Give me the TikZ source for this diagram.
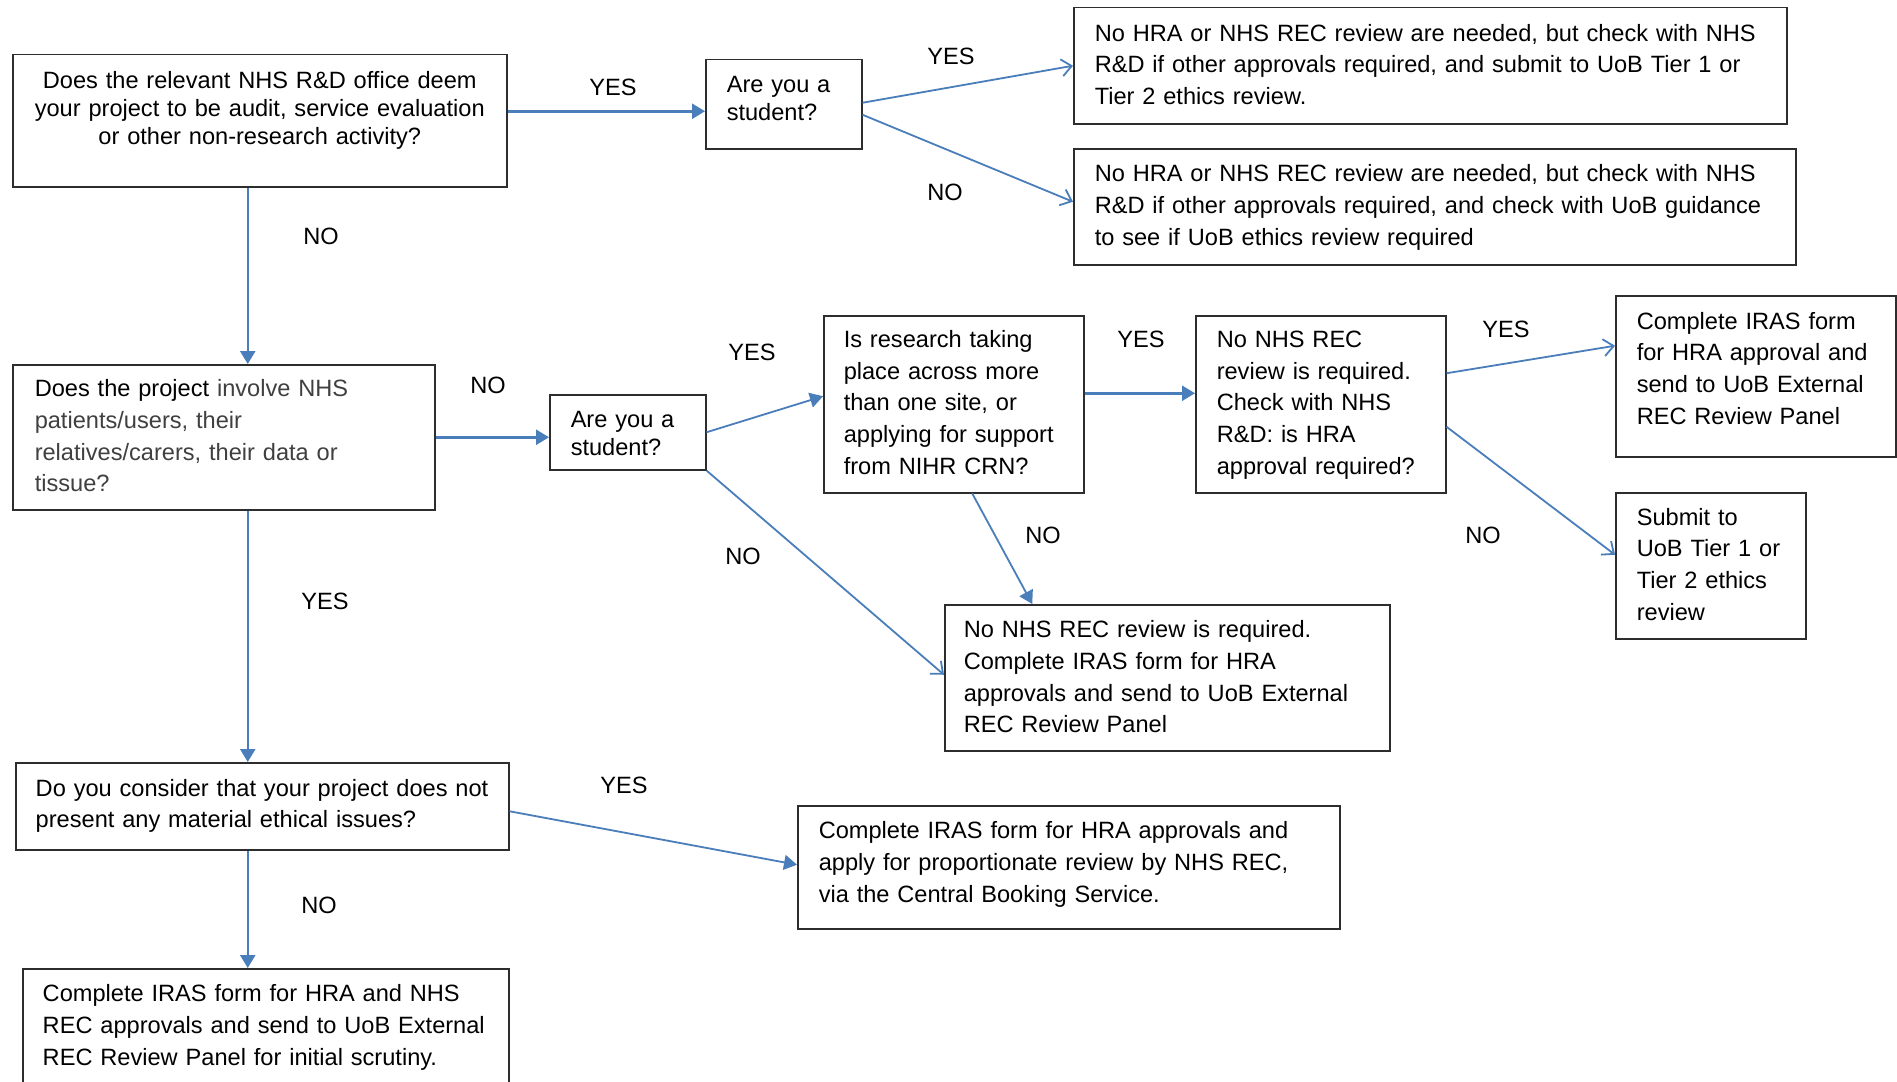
\documentclass[tikz,border=0pt]{standalone}
\usepackage{fontspec}
\setmainfont{Liberation Sans}
\usetikzlibrary{arrows.meta}
\definecolor{arr}{RGB}{74,126,187}
\definecolor{bord}{RGB}{45,45,45}
\definecolor{gtxt}{RGB}{64,64,64}
\newcommand\bt[2]{\leftskip=#1pt\relax #2\par}
\begin{document}
\begin{tikzpicture}[x=1pt,y=-1pt,
  box/.style={draw=bord, line width=1.5pt, anchor=north west, inner sep=0pt, align=left,
    font=\fontsize{23.6}{31.7}\selectfont},
  tight/.style={font=\fontsize{23.6}{27.8}\selectfont},
  lbl/.style={inner sep=0pt, font=\fontsize{23.6}{28}\selectfont},
  fa/.style={draw=arr, line width=2.5pt, -{Triangle[length=13pt,width=15pt]}},
  thin/.style={line width=1.8pt},
  va/.style={draw=arr, line width=1.8pt, -{Straight Barb[length=10pt,width=17pt]}}
]
\fill[white] (0,0) rectangle (1897,1081);
\clip (0,0) rectangle (1897,1081);

% boxes
\node[box, tight, align=center, text width=494pt, text height=34pt, text depth=98pt] (b1) at (12,54)
  {Does the relevant NHS R\&D office deem\\ your project to be audit, service evaluation\\ or other non-research activity?};
\node[box, tight, text width=156pt, text height=33pt, text depth=56pt] (s1) at (705,59)
  {\bt{21}{Are you a\\ student?}};
\node[box, text width=713pt, text height=33.5pt, text depth=82.5pt] (t1) at (1073,7)
  {\bt{21}{No HRA or NHS REC review are needed, but check with NHS\\ R\&D if other approvals required, and submit to UoB Tier 1 or\\ Tier 2 ethics review.}};
\node[box, text width=722pt, text height=33pt, text depth=83pt] (t2) at (1073,148)
  {\bt{21}{No HRA or NHS REC review are needed, but check with NHS\\ R\&D if other approvals required, and check with UoB guidance\\ to see if UoB ethics review required}};
\node[box, text width=422pt, text height=32pt, text depth=113pt] (b2) at (12,364)
  {\bt{22}{Does the project {\color{gtxt}involve NHS\\ patients/users, their\\ relatives/carers, their data or\\ tissue?}}};
\node[box, tight, text width=156pt, text height=32.5pt, text depth=42.5pt] (s2) at (549,394)
  {\bt{21}{Are you a\\ student?}};
\node[box, text width=260pt, text height=31.6pt, text depth=145.4pt] (r) at (823,315)
  {\bt{20}{Is research taking\\ place across more\\ than one site, or\\ applying for support\\ from NIHR CRN?}};
\node[box, text width=250pt, text height=31.6pt, text depth=145.4pt] (n1) at (1195,315)
  {\bt{21}{No NHS REC\\ review is required.\\ Check with NHS\\ R\&D: is HRA\\ approval required?}};
\node[box, text width=280pt, text height=33.5pt, text depth=127.5pt] (i) at (1615,295)
  {\bt{21}{Complete IRAS form\\ for HRA approval and\\ send to UoB External\\ REC Review Panel}};
\node[box, text width=190pt, text height=32.5pt, text depth=113.5pt] (sb) at (1615,492)
  {\bt{21}{Submit to\\ UoB Tier 1 or\\ Tier 2 ethics\\ review}};
\node[box, text width=445pt, text height=33pt, text depth=113pt] (n2) at (944,604)
  {\bt{19}{No NHS REC review is required.\\ Complete IRAS form for HRA\\ approvals and send to UoB External\\ REC Review Panel}};
\node[box, text width=493pt, text height=33.5pt, text depth=53.5pt] (b3) at (15,762)
  {\bt{20}{Do you consider that your project does not\\ present any material ethical issues?}};
\node[box, text width=542pt, text height=33pt, text depth=90pt] (p) at (797,805)
  {\bt{21}{Complete IRAS form for HRA approvals and\\ apply for proportionate review by NHS REC,\\ via the Central Booking Service.}};
\node[box, text width=486pt, text height=33pt, text depth=107pt] (l) at (22,968)
  {\bt{20}{Complete IRAS form for HRA and NHS\\ REC approvals and send to UoB External\\ REC Review Panel for initial scrutiny.}};

% connectors
\draw[fa] ([yshift=-7pt]s1.west -| b1.east) -- ([yshift=-7pt]s1.west);
\draw[va] ([yshift=1.5pt]s1.east) -- (t1.west);
\draw[va] ([yshift=-10.5pt]s1.east) -- ([yshift=5pt]t2.west);
\draw[fa] ([xshift=-12pt]b1.south) -- ([xshift=-12pt]b1.south |- b2.north);
\draw[fa] (b2.east) -- (b2.east -| s2.west);
\draw[fa, thin] (s2.east) -- ([yshift=8pt]r.west);
\draw[va] (s2.south east) -- ([yshift=3pt]n2.west);
\draw[fa] ([yshift=11pt]r.east) -- ([yshift=11pt]r.east -| n1.west);
\draw[fa, thin] ([xshift=18.5pt]r.south) -- ([xshift=-135pt]n2.north);
\draw[va] ([yshift=31pt]n1.east) -- ([yshift=30.5pt]i.west);
\draw[va] ([yshift=-22.5pt]n1.east) -- ([yshift=11pt]sb.west);
\draw[fa] ([xshift=24pt]b2.south) -- ([xshift=24pt]b2.south |- b3.north);
\draw[fa, thin] ([yshift=-5pt]b3.east) -- ([yshift=2.5pt]p.west);
\draw[fa] ([xshift=-14.5pt]b3.south) -- ([xshift=-14.5pt]b3.south |- l.north);

% labels
\node[lbl] (y1) at (613,87) {YES};
\node[lbl] (y2) at (951,56) {YES};
\node[lbl] (n3) at (945,192) {NO};
\node[lbl] (n4) at (321,236) {NO};
\node[lbl] (n5) at (488,385) {NO};
\node[lbl] (y3) at (752,352) {YES};
\node[lbl] (n6) at (743,556) {NO};
\node[lbl] (y4) at (1141,339) {YES};
\node[lbl] (n7) at (1043,535) {NO};
\node[lbl] (y5) at (1506,329) {YES};
\node[lbl] (n8) at (1483,535) {NO};
\node[lbl] (y6) at (325,601) {YES};
\node[lbl] (y7) at (624,785) {YES};
\node[lbl] (n9) at (319,905) {NO};
\end{tikzpicture}
\end{document}
